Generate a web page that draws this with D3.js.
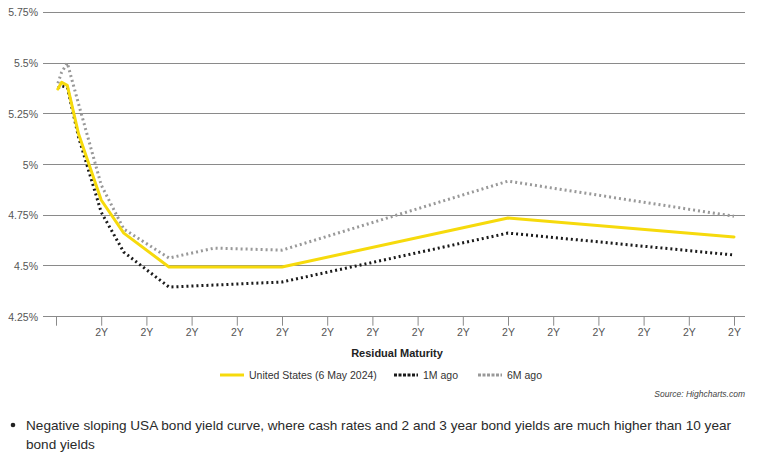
<!DOCTYPE html>
<html><head><meta charset="utf-8">
<script src="https://cdn.jsdelivr.net/npm/d3@7"></script>
<style>
html,body{margin:0;padding:0;background:#fff;}
svg{display:block;font-family:"Liberation Sans",Arial,sans-serif;}
</style></head>
<body><svg id="c" width="760" height="462"></svg>
<script>
// maturities in years
const maturities = [1/12, 0.25, 0.5, 1, 2, 3, 5, 7, 10, 20, 30];
const current = [5.372, 5.405, 5.39, 5.15, 4.825, 4.662, 4.495, 4.495, 4.495, 4.736, 4.643];
const oneMonthAgo = [5.377, 5.387, 5.38, 5.134, 4.765, 4.568, 4.396, 4.406, 4.421, 4.662, 4.554];
const sixMonthsAgo = [5.40, 5.455, 5.50, 5.298, 4.899, 4.682, 4.539, 4.588, 4.578, 4.918, 4.745];
const yTicks = [4.25, 4.5, 4.75, 5, 5.25, 5.5, 5.75];
const yTickLabels = ["4.25%", "4.5%", "4.75%", "5%", "5.25%", "5.5%", "5.75%"];
const xTicks = [0, 2, 4, 6, 8, 10, 12, 14, 16, 18, 20, 22, 24, 26, 28, 30];
const xTickLabels = ["", "2Y", "2Y", "2Y", "2Y", "2Y", "2Y", "2Y", "2Y", "2Y", "2Y", "2Y", "2Y", "2Y", "2Y", "2Y"];
const seriesNames = ["United States (6 May 2024)", "1M ago", "6M ago"];
const xTitle = "Residual Maturity";
const sourceText = "Source: Highcharts.com";
const bulletLines = ["Negative sloping USA bond yield curve, where cash rates and 2 and 3 year bond yields are much higher than 10 year", "bond yields"];

const svg = d3.select("#c");
const x = d3.scaleLinear().domain([0, 30]).range([56, 734]);
const y = d3.scaleLinear().domain([4.25, 5.75]).range([316.7, 12.3]);

// gridlines
svg.append("g").selectAll("line").data(yTicks).join("line")
  .attr("x1", 43).attr("x2", 745)
  .attr("y1", d => y(d)).attr("y2", d => y(d))
  .attr("stroke", "#8a8a8a").attr("stroke-width", 1).attr("shape-rendering", "crispEdges");

// y labels
svg.append("g").selectAll("text").data(yTicks).join("text")
  .attr("x", 38).attr("y", d => y(d) + 4)
  .attr("text-anchor", "end").attr("font-size", 10.5).attr("fill", "#555")
  .text((d, i) => yTickLabels[i]);

// x axis
const xAxis = d3.axisBottom(x).tickValues(xTicks).tickSize(9).tickPadding(3)
  .tickFormat((d, i) => xTickLabels[i]);
const gx = svg.append("g").attr("transform", `translate(0,${y(4.25)})`).call(xAxis);
gx.select(".domain").remove();
gx.selectAll(".tick line").attr("stroke", "#8a8a8a");
gx.selectAll(".tick text").attr("font-size", 10.5).attr("fill", "#555").attr("font-family", "Liberation Sans, Arial, sans-serif");

svg.append("text").attr("x", 397).attr("y", 357).attr("text-anchor", "middle")
  .attr("font-size", 11).attr("font-weight", "bold").attr("fill", "#222").text(xTitle);

const line = d3.line().x((d, i) => x(maturities[i])).y(d => y(d));
const styles = [
  {stroke: "#f6da0c", dash: null, cap: "round"},
  {stroke: "#1a1a1a", dash: "2,3", cap: "butt"},
  {stroke: "#999999", dash: "2,3", cap: "butt"}
];
const data = [sixMonthsAgo, oneMonthAgo, current];
const order = [2, 1, 0];
data.forEach((s, k) => {
  const st = styles[order[k]];
  svg.append("path").datum(s).attr("d", line).attr("fill", "none")
    .attr("stroke", st.stroke).attr("stroke-width", 3)
    .attr("stroke-linejoin", "round").attr("stroke-linecap", st.cap)
    .attr("stroke-dasharray", st.dash);
});

// legend
const legendX = [220, 394, 478];
seriesNames.forEach((n, i) => {
  const st = styles[i];
  svg.append("line").attr("x1", legendX[i]).attr("x2", legendX[i] + 24)
    .attr("y1", 375).attr("y2", 375).attr("stroke", st.stroke).attr("stroke-width", 3)
    .attr("stroke-dasharray", i === 0 ? null : "3,1.5");
  svg.append("text").attr("x", legendX[i] + 29).attr("y", 379).attr("font-size", 10.5)
    .attr("fill", "#333").text(n);
});

svg.append("text").attr("x", 745).attr("y", 397).attr("text-anchor", "end")
  .attr("font-size", 8.5).attr("font-style", "italic").attr("fill", "#444").text(sourceText);

svg.append("circle").attr("cx", 13).attr("cy", 425).attr("r", 2.3).attr("fill", "#222");
bulletLines.forEach((t, i) => {
  svg.append("text").attr("x", 26).attr("y", 430 + i * 19).attr("font-size", 13.6)
    .attr("fill", "#2a2a2a").text(t);
});
</script></body></html>
